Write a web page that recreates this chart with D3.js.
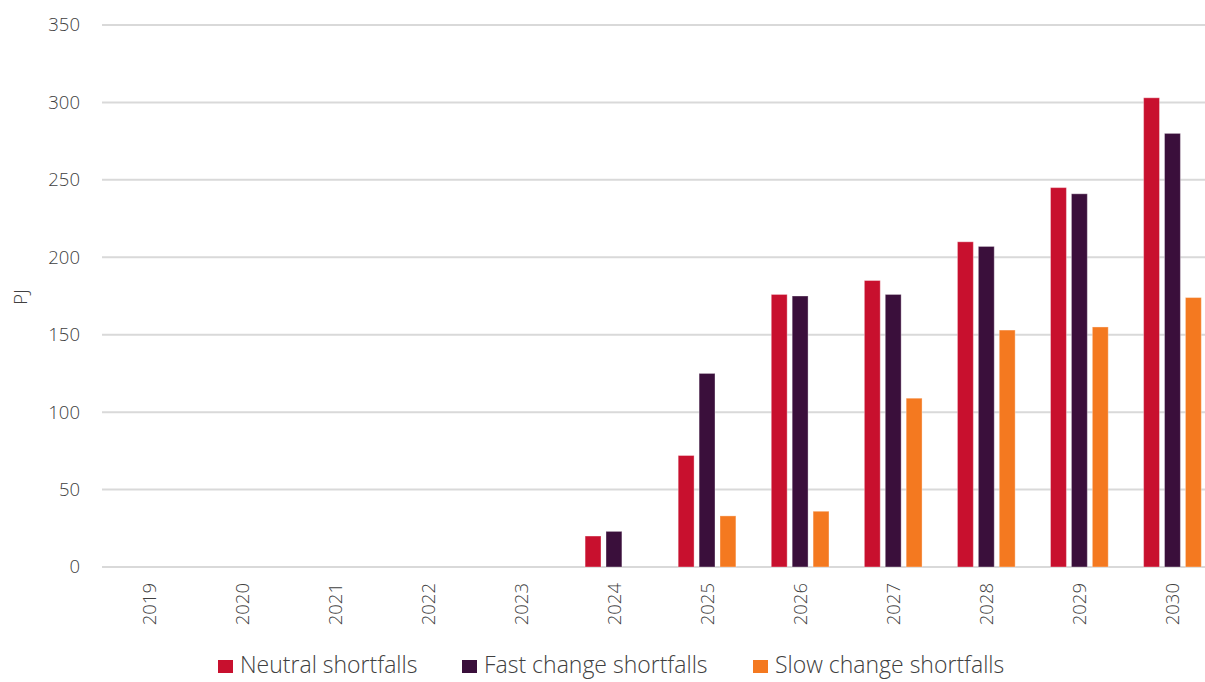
<!DOCTYPE html>
<html>
<head>
<meta charset="utf-8">
<script src="https://cdn.jsdelivr.net/npm/d3@7"></script>
<style>
  html, body { margin: 0; padding: 0; background: #fff; }
  svg { display: block; }
  text { font-family: "Open Sans", "Noto Sans", sans-serif; font-weight: 300; fill: #404040; }
</style>
</head>
<body>
<svg id="chart" width="1205" height="682"></svg>
<script>
// Gas supply shortfalls by scenario, PJ
const years = ["2019","2020","2021","2022","2023","2024","2025","2026","2027","2028","2029","2030"];
const neutral = [0, 0, 0, 0, 0, 20, 72, 176, 185, 210, 245, 303];
const fastChange = [0, 0, 0, 0, 0, 23, 125, 175, 176, 207, 241, 280];
const slowChange = [0, 0, 0, 0, 0, 0, 33, 36, 109, 153, 155, 174];
const seriesNames = ["Neutral shortfalls", "Fast change shortfalls", "Slow change shortfalls"];
const seriesColors = ["#c8102e", "#3a0f3b", "#f47920"];
const yTicks = [0, 50, 100, 150, 200, 250, 300, 350];

const seriesValues = [neutral, fastChange, slowChange];
const svg = d3.select("#chart");
const textColor = "#404040";

const x = d3.scaleBand().domain(years).range([102, 1219]).paddingInner(0).paddingOuter(0);
const sub = d3.scaleBand().domain(d3.range(3)).range([x.bandwidth() * 0.19, x.bandwidth() * 0.81]).paddingInner(0.24);
const y = d3.scaleLinear().domain([0, 350]).range([567, 25]);

// gridlines
svg.append("g").selectAll("line").data(yTicks).join("line")
  .attr("x1", 102).attr("x2", 1219)
  .attr("y1", d => y(d)).attr("y2", d => y(d))
  .attr("stroke", "#d9d9d9").attr("stroke-width", 2);

// y axis labels
const yAxis = svg.append("g").attr("transform", "translate(80,0)")
  .call(d3.axisLeft(y).tickValues(yTicks).tickSize(0).tickPadding(0));
yAxis.attr("font-size", null).attr("font-family", null);
yAxis.select(".domain").remove();
yAxis.selectAll("text").style("font-size", "18.5px").attr("fill", textColor);

svg.append("text").attr("transform", "translate(27,297) rotate(-90)")
  .attr("text-anchor", "middle").style("font-size", "18.5px").text("PJ");

// x axis labels, rotated
const xAxis = svg.append("g").attr("transform", "translate(0,567)")
  .call(d3.axisBottom(x).tickSize(0).tickPadding(0));
xAxis.attr("font-size", null).attr("font-family", null);
xAxis.select(".domain").remove();
xAxis.selectAll("text")
  .style("font-size", "18.5px").attr("fill", textColor)
  .attr("text-anchor", "end")
  .attr("dy", null).attr("y", 0)
  .attr("transform", "translate(7,16) rotate(-90)");

// bars
const groups = svg.append("g").selectAll("g").data(years).join("g")
  .attr("transform", d => `translate(${x(d)},0)`);
groups.selectAll("rect")
  .data((d, i) => seriesValues.map((vals, s) => ({ s, v: vals[i] })).filter(o => o.v > 0))
  .join("rect")
  .attr("x", o => sub(o.s))
  .attr("width", sub.bandwidth())
  .attr("y", o => y(o.v))
  .attr("height", o => y(0) - y(o.v))
  .attr("fill", o => seriesColors[o.s])
  .attr("stroke", "rgba(255,255,255,0.35)")
  .attr("stroke-width", 1);

// legend, kept just inside the bottom edge so descenders are not clipped
const legendX = [218, 462, 753];
const legend = svg.append("g").selectAll("g").data(seriesNames).join("g")
  .attr("transform", (d, i) => `translate(${legendX[i]},665)`);
legend.append("rect").attr("x", 0).attr("y", -5).attr("width", 15).attr("height", 13)
  .attr("fill", (d, i) => seriesColors[i]);
legend.append("text").attr("x", 22).attr("y", 0).attr("dy", "0.35em")
  .style("font-size", "23px").text(d => d);
</script>
</body>
</html>
